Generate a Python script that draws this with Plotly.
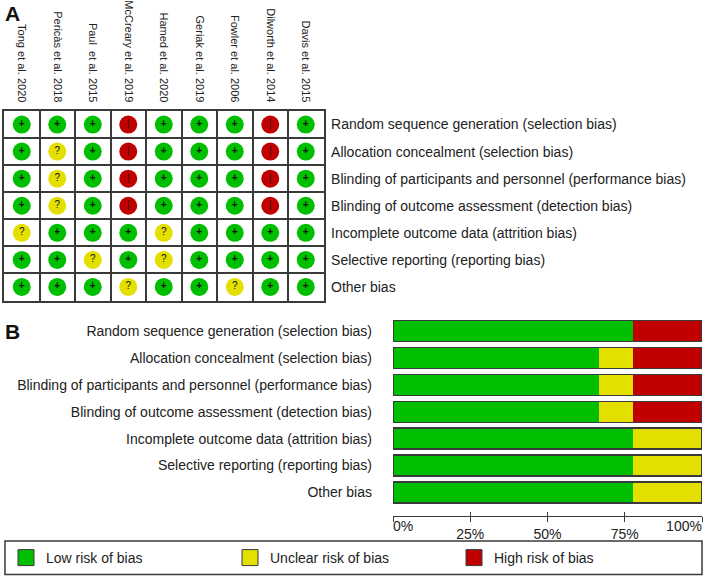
import plotly.graph_objects as go

# studies (columns of panel A) and bias domains (rows)
studies = ["Tong et al. 2020", "Pericàs et al. 2018", "Paul\u00a0 et al. 2015",
           "McCreary et al. 2019", "Hamed et al. 2020", "Geriak et al. 2019",
           "Fowler et al. 2006", "Dilworth et al. 2014", "Davis et al. 2015"]
domains = ["Random sequence generation (selection bias)",
           "Allocation concealment (selection bias)",
           "Blinding of participants and personnel (performance bias)",
           "Blinding of outcome assessment (detection bias)",
           "Incomplete outcome data (attrition bias)",
           "Selective reporting (reporting bias)",
           "Other bias"]

# judgements per domain, one entry per study ("+" low, "?" unclear, "-" high)
random_seq = ["+", "+", "+", "-", "+", "+", "+", "-", "+"]
allocation = ["+", "?", "+", "-", "+", "+", "+", "-", "+"]
blind_part = ["+", "?", "+", "-", "+", "+", "+", "-", "+"]
blind_outc = ["+", "?", "+", "-", "+", "+", "+", "-", "+"]
incomplete = ["?", "+", "+", "+", "?", "+", "+", "+", "+"]
selective = ["+", "+", "?", "+", "?", "+", "+", "+", "+"]
other_bias = ["+", "+", "+", "?", "+", "+", "?", "+", "+"]
judgements = [random_seq, allocation, blind_part, blind_outc, incomplete, selective, other_bias]

levels = ["+", "?", "-"]
level_names = ["Low risk of bias", "Unclear risk of bias", "High risk of bias"]
level_colors = ["#00bf00", "#e3e000", "#c00000"]
level_marks = ["<b>+</b>", "?", "|"]
mark_colors = ["#111", "#111", "#3a1010"]

pct_ticks = [0, 25, 50, 75, 100]
pct_labels = ["0%", "25%", "50%", "75%", "100%"]

FONT = "Liberation Sans, Arial, sans-serif"
EDGE = "#3a3a3a"
W, H = 706, 577

fig = go.Figure()

# panel A: one dot per study/domain
xs, ys, cols, marks, mcols = [], [], [], [], []
for r, row in enumerate(judgements):
    for c, j in enumerate(row):
        k = levels.index(j)
        xs.append(c)
        ys.append(r)
        cols.append(level_colors[k])
        marks.append(level_marks[k])
        mcols.append(mark_colors[k])

fig.add_trace(go.Scatter(x=xs, y=ys, mode="markers+text", text=marks,
                         textposition="middle center",
                         textfont=dict(size=10, color=mcols, family=FONT),
                         marker=dict(size=18, color=cols, line=dict(width=0)),
                         showlegend=False, hoverinfo="skip",
                         xaxis="x", yaxis="y"))

# panel B: percentage of studies per judgement
n = len(studies)
pct = {lv: [100 * row.count(lv) / n for row in judgements] for lv in levels}
for k, lv in enumerate(levels):
    fig.add_trace(go.Bar(x=pct[lv], y=domains, orientation="h", width=0.78,
                         marker=dict(color=level_colors[k], line=dict(width=0)),
                         showlegend=False, hoverinfo="skip",
                         xaxis="x2", yaxis="y2"))

# outline around each whole bar
totals = [sum(pct[lv][i] for lv in levels) for i in range(len(domains))]
fig.add_trace(go.Bar(x=totals, y=domains, orientation="h", width=0.78,
                     marker=dict(color="rgba(0,0,0,0)", line=dict(width=1.3, color=EDGE)),
                     showlegend=False, hoverinfo="skip",
                     xaxis="x3", yaxis="y2"))

# legend entries (they also give the x4 overlay axis a subplot to live on)
for k in range(3):
    fig.add_trace(go.Scatter(x=[None], y=[None], mode="markers", name=level_names[k],
                             xaxis="x4", yaxis="y2",
                             marker=dict(symbol="square", size=18, color=level_colors[k],
                                         line=dict(width=1, color=EDGE))))

grid_a = dict(showline=True, mirror=True, linecolor=EDGE, linewidth=1.5,
              showgrid=False, zeroline=False, ticks="", automargin=False,
              minor=dict(tick0=0.5, dtick=1, showgrid=True, gridcolor=EDGE, gridwidth=1.5, ticks=""))

# end labels of the % axis sit inside the axis ends, so they get their own overlay axes
overlay = dict(overlaying="x2", range=[0, 100], anchor="y2", side="bottom",
               showgrid=False, zeroline=False, showline=False, automargin=False,
               tickfont=dict(size=14), ticklabeloverflow="allow", tickvals=pct_ticks)

fig.update_layout(
    width=W, height=577, margin=dict(l=0, r=0, t=0, b=0),
    paper_bgcolor="white", plot_bgcolor="white",
    font=dict(family=FONT, size=14, color="#222"),
    barmode="stack", bargap=0.22,
    xaxis=dict(domain=[4 / W, 323.5 / W], range=[-0.5, 8.5], side="top", anchor="y",
               tickvals=list(range(n)), ticktext=studies, tickangle=90,
               tickfont=dict(size=11), ticklabelstandoff=3, **grid_a),
    yaxis=dict(domain=[1 - 300.5 / H, 1 - 111 / H], range=[6.5, -0.5], side="right", anchor="x",
               tickvals=list(range(len(domains))), ticktext=domains,
               tickfont=dict(size=14), ticklabelstandoff=3, **grid_a),
    xaxis2=dict(domain=[393 / W, 702 / W], range=[0, 100], anchor="y2",
                tickvals=pct_ticks, ticktext=[""] + pct_labels[1:-1] + [""],
                showline=True, linecolor=EDGE, linewidth=1.3, ticks="outside", ticklen=5,
                tickcolor=EDGE, tickwidth=1.3, showgrid=False, zeroline=False,
                tickfont=dict(size=14), automargin=False),
    xaxis3=dict(ticktext=pct_labels[:1] + [""] * 4,
                ticks="inside", ticklen=4, tickcolor=EDGE, tickwidth=1.3,
                ticklabelshift=10, **overlay),
    xaxis4=dict(ticktext=[""] * 4 + pct_labels[-1:], ticks="",
                ticklabelshift=-18, **overlay),
    yaxis2=dict(domain=[1 - 516 / H, 1 - 317.5 / H], range=[6.874, -0.5], anchor="x2",
                showgrid=False, zeroline=False, showline=False, ticks="",
                ticklabelstandoff=20, tickfont=dict(size=14), automargin=False),
    legend=dict(orientation="h", x=6 / W, xanchor="left", y=1 - 542 / H, yanchor="top",
                bgcolor="rgba(0,0,0,0)", borderwidth=0, font=dict(size=14),
                entrywidth=179, entrywidthmode="pixels", itemwidth=30,
                itemsizing="trace", traceorder="normal"),
    shapes=[dict(type="rect", xref="paper", yref="paper",
                 x0=5 / W, x1=702 / W, y0=1 - 574.5 / H, y1=1 - 541 / H,
                 line=dict(color=EDGE, width=1.5), fillcolor="rgba(0,0,0,0)", layer="below")],
    annotations=[
        dict(text="<b>A</b>", x=3 / W, y=1, xref="paper", yref="paper",
             xanchor="left", yanchor="top", showarrow=False, font=dict(size=21, color="#111")),
        dict(text="<b>B</b>", x=3 / W, y=1 - 318 / H, xref="paper", yref="paper",
             xanchor="left", yanchor="top", showarrow=False, font=dict(size=21, color="#111")),
    ],
)

# the page's default body margin would push the figure 8px off the window
fig.write_html("out.html", config={"displayModeBar": False},
               post_script="document.body.style.margin='0';")
